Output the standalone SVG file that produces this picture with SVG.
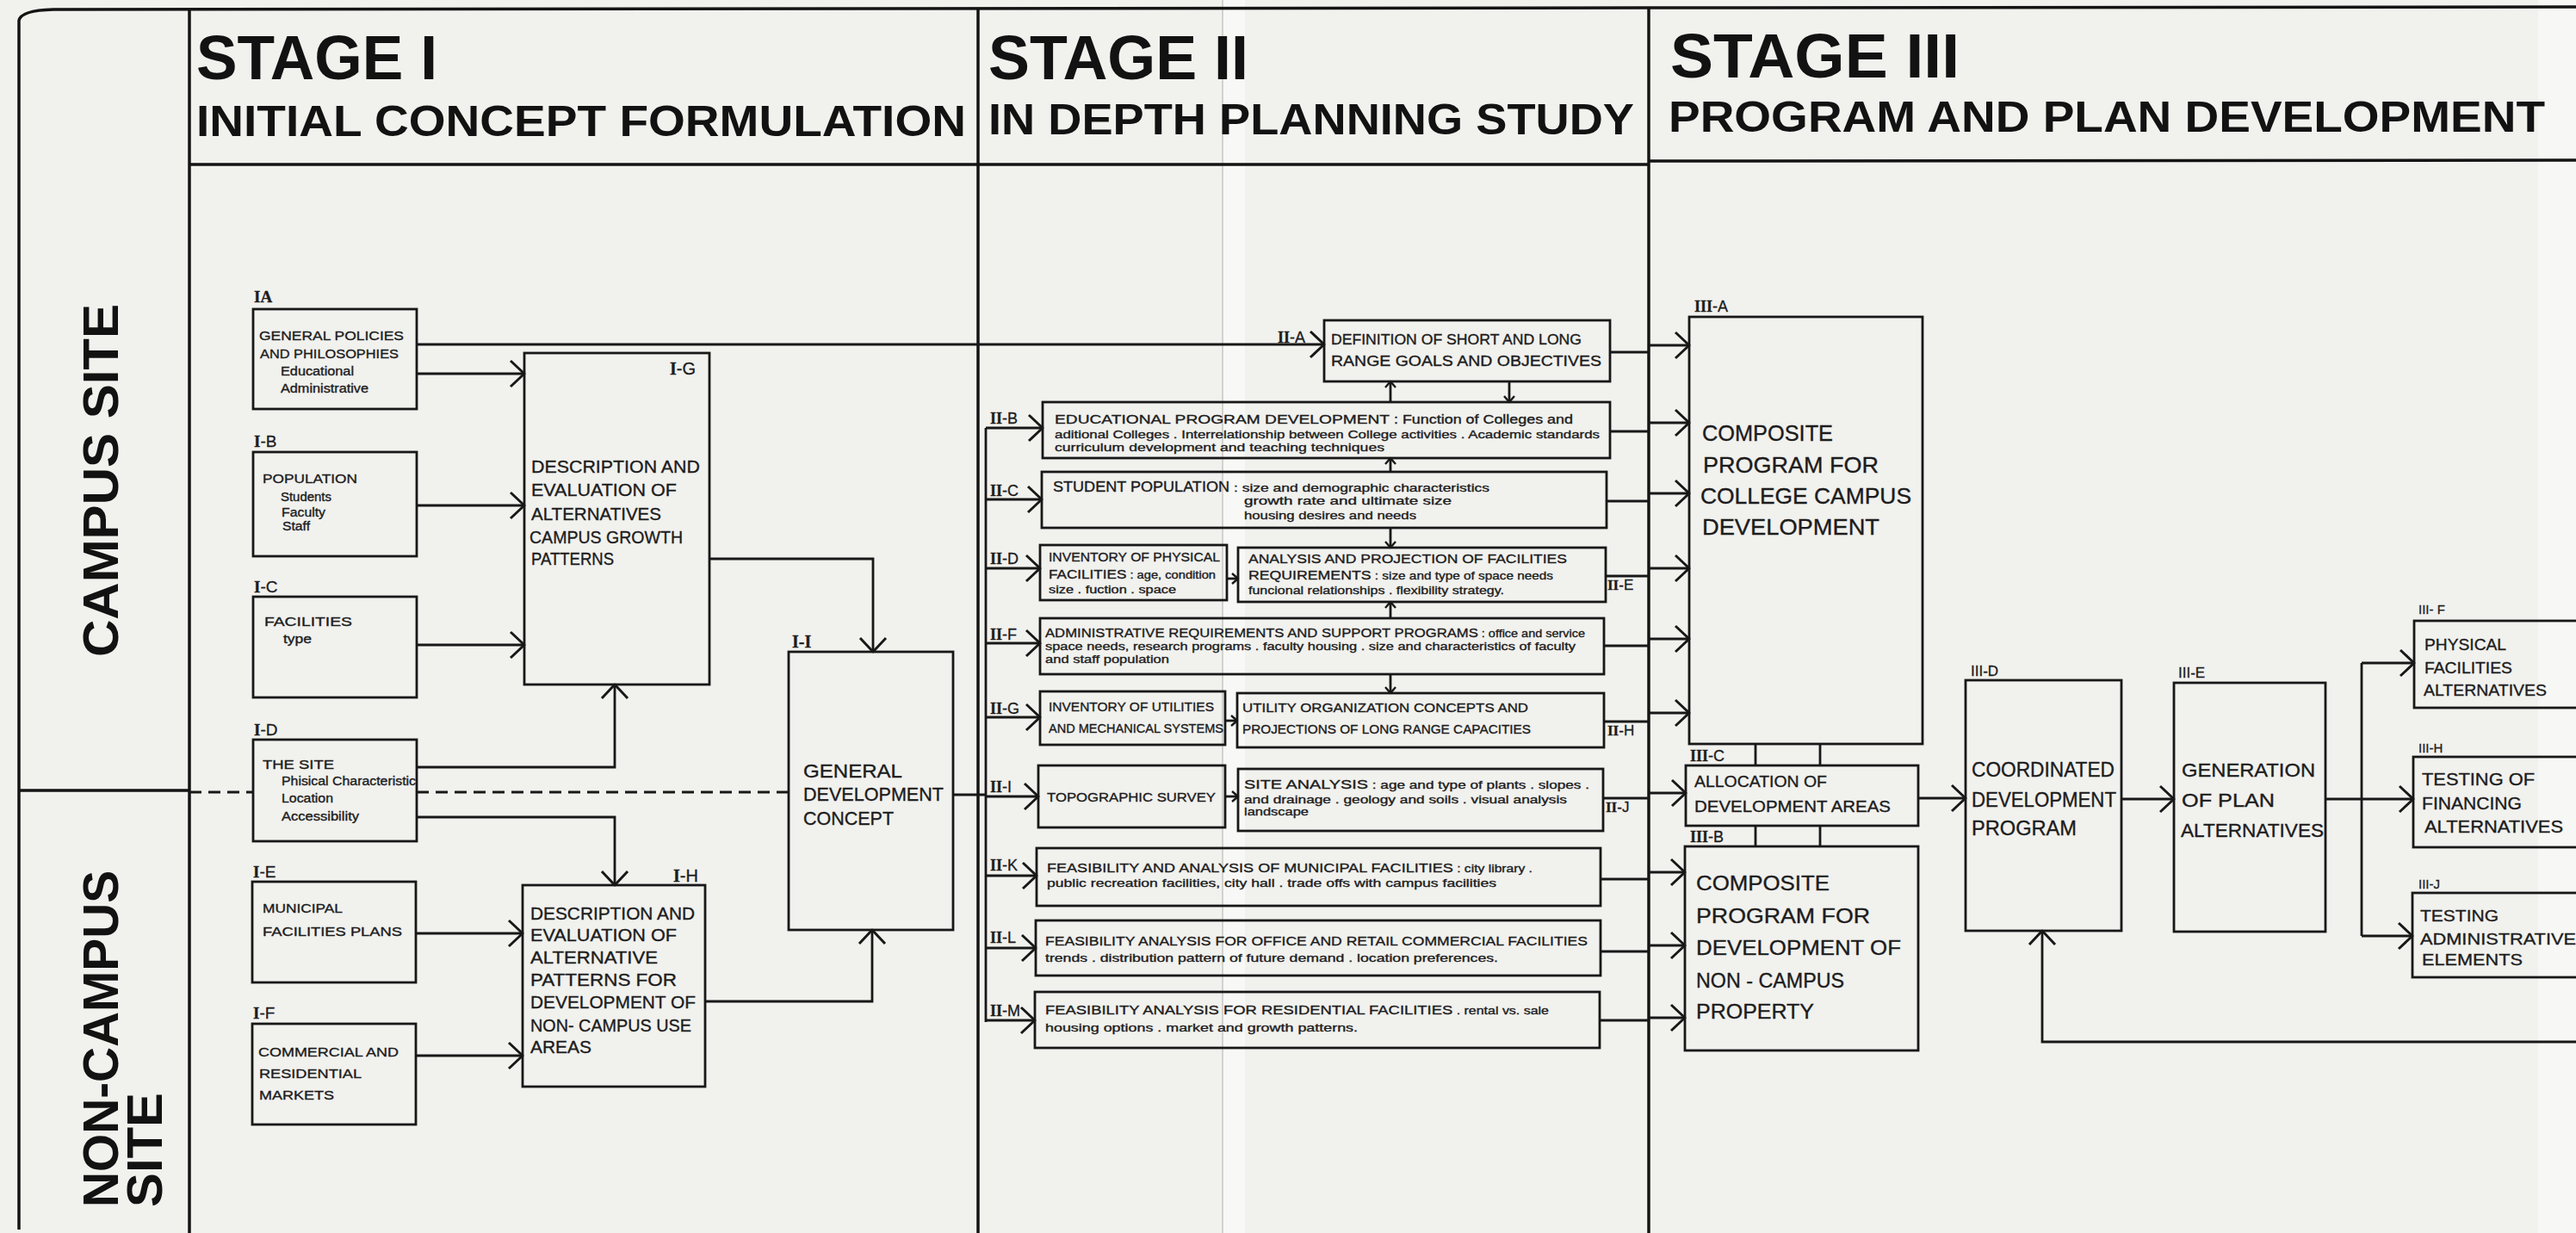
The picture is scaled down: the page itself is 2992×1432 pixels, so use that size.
<svg xmlns="http://www.w3.org/2000/svg" width="2992" height="1432" viewBox="0 0 2992 1432">
<defs>
<style>
.bx{fill:none;stroke:#181818;stroke-width:2.8}
.ln{fill:none;stroke:#181818;stroke-width:2.8;stroke-linejoin:miter}
.fr{fill:none;stroke:#141414;stroke-width:3.5}
.t{font-family:"Liberation Sans",Arial,sans-serif;fill:#1c1c1c;stroke:#1c1c1c;stroke-width:0.35}
.hd{font-family:"Liberation Sans",Arial,sans-serif;font-weight:bold;fill:#121212}
.lb{font-family:"Liberation Sans",Arial,sans-serif;fill:#1c1c1c;stroke:#1c1c1c;stroke-width:0.3}
.rn{font-family:"Liberation Serif","Times New Roman",serif;font-weight:bold}
</style>
<marker id="ah" viewBox="-19 -18 21 36" markerWidth="21" markerHeight="36" refX="0" refY="0" orient="auto" markerUnits="userSpaceOnUse">
<path d="M-16,-15 L0,0 L-16,15" fill="none" stroke="#181818" stroke-width="3" stroke-linejoin="round"/>
</marker>
<marker id="as" viewBox="-10 -8 12 16" markerWidth="12" markerHeight="16" refX="0" refY="0" orient="auto" markerUnits="userSpaceOnUse">
<path d="M-7,-6 L0,0 L-7,6" fill="none" stroke="#181818" stroke-width="2.4" stroke-linejoin="round"/>
</marker>
</defs>

<!-- paper -->
<rect x="0" y="0" width="2992" height="1432" fill="#f1f1ee"/>
<rect x="1420" y="0" width="26" height="1432" fill="#f8f8f6"/>
<line x1="1420" y1="0" x2="1420" y2="1432" stroke="#d2d2ce" stroke-width="2"/>
<rect x="2948" y="0" width="44" height="1432" fill="#f7f7f5"/>

<!-- frame and stage grid -->
<g id="frame">
<path class="fr" d="M22,1428 L22,24 Q24,12 62,11 L1915,9 L2992,8"/>
<line class="fr" x1="220" y1="10" x2="220" y2="1432" stroke-width="2.6"/>
<line class="fr" x1="1136" y1="9" x2="1136" y2="1432" stroke-width="4"/>
<line class="fr" x1="1915" y1="8" x2="1915" y2="1432" stroke-width="5"/>
<path class="fr" d="M220,191 L1915,191 M1915,187 L2992,186"/>
<line class="fr" x1="22" y1="918" x2="220" y2="918" stroke-width="2.6"/>
<path class="ln" stroke-dasharray="14 8" d="M220,920 H294 M484,920 H916"/>
</g>

<!-- stage headings -->
<g id="headings">
<text class="hd" x="228" y="92" font-size="72" textLength="280" lengthAdjust="spacingAndGlyphs">STAGE I</text>
<text class="hd" x="228" y="158" font-size="50" textLength="894" lengthAdjust="spacingAndGlyphs">INITIAL  CONCEPT  FORMULATION</text>
<text class="hd" x="1148" y="92" font-size="72" textLength="302" lengthAdjust="spacingAndGlyphs">STAGE  II</text>
<text class="hd" x="1148" y="156" font-size="50" textLength="750" lengthAdjust="spacingAndGlyphs">IN  DEPTH  PLANNING  STUDY</text>
<text class="hd" x="1940" y="90" font-size="72" textLength="336" lengthAdjust="spacingAndGlyphs">STAGE  III</text>
<text class="hd" x="1938" y="153" font-size="50" textLength="1018" lengthAdjust="spacingAndGlyphs">PROGRAM  AND  PLAN  DEVELOPMENT</text>
</g>

<!-- site rows -->
<g id="rows">
<text class="hd" font-size="57" text-anchor="middle" textLength="410" lengthAdjust="spacingAndGlyphs" transform="translate(137,558) rotate(-90)">CAMPUS  SITE</text>
<text class="hd" font-size="57" textLength="391" lengthAdjust="spacingAndGlyphs" transform="translate(137,1402) rotate(-90)">NON-CAMPUS</text>
<text class="hd" font-size="57" textLength="133" lengthAdjust="spacingAndGlyphs" transform="translate(188,1402) rotate(-90)">SITE</text>
</g>

<!-- connectors -->
<g id="connectors">
<!-- stage I -->
<path class="ln" d="M484,400 H1538" marker-end="url(#ah)"/>
<path class="ln" d="M484,434 H609" marker-end="url(#ah)"/>
<path class="ln" d="M484,587 H609" marker-end="url(#ah)"/>
<path class="ln" d="M484,749 H609" marker-end="url(#ah)"/>
<path class="ln" d="M484,891 H714 V795" marker-end="url(#ah)"/>
<path class="ln" d="M484,949 H714 V1028" marker-end="url(#ah)"/>
<path class="ln" d="M483,1084 H607" marker-end="url(#ah)"/>
<path class="ln" d="M483,1226 H607" marker-end="url(#ah)"/>
<path class="ln" d="M824,649 H1014 V757" marker-end="url(#ah)"/>
<path class="ln" d="M819,1163 H1013 V1080" marker-end="url(#ah)"/>
<path class="ln" d="M1107,923 H1145"/>
<!-- stage II distribution bus -->
<path class="ln" d="M1145,497 V1187"/>
<path class="ln" d="M1145,497 H1211" marker-end="url(#ah)"/>
<path class="ln" d="M1145,580 H1210" marker-end="url(#ah)"/>
<path class="ln" d="M1145,660 H1208" marker-end="url(#ah)"/>
<path class="ln" d="M1145,747 H1208" marker-end="url(#ah)"/>
<path class="ln" d="M1145,833 H1208" marker-end="url(#ah)"/>
<path class="ln" d="M1145,925 H1206" marker-end="url(#ah)"/>
<path class="ln" d="M1145,1017 H1204" marker-end="url(#ah)"/>
<path class="ln" d="M1145,1101 H1203" marker-end="url(#ah)"/>
<path class="ln" d="M1145,1185 H1202" marker-end="url(#ah)"/>
<!-- stage II internal links -->
<path class="ln" d="M1425,672 H1438" marker-end="url(#as)"/>
<path class="ln" d="M1423,837 H1437" marker-end="url(#as)"/>
<path class="ln" d="M1423,925 H1438" marker-end="url(#as)"/>
<path class="ln" d="M1615,467 V443" marker-end="url(#as)"/>
<path class="ln" d="M1753,443 V467" marker-end="url(#as)"/>
<path class="ln" d="M1615,548 V532" marker-end="url(#as)"/>
<path class="ln" d="M1615,613 V636" marker-end="url(#as)"/>
<path class="ln" d="M1615,718 V699" marker-end="url(#as)"/>
<path class="ln" d="M1615,783 V805" marker-end="url(#as)"/>
<!-- stage II to stage III collector -->
<path class="ln" d="M1870,409 H1915 M1870,501 H1915 M1866,582 H1915 M1865,669 H1915 M1863,750 H1915 M1863,838 H1915 M1862,927 H1915 M1859,1021 H1915 M1859,1105 H1915 M1858,1185 H1915"/>
<path class="ln" d="M1915,401 H1962" marker-end="url(#ah)"/>
<path class="ln" d="M1915,491 H1962" marker-end="url(#ah)"/>
<path class="ln" d="M1915,573 H1962" marker-end="url(#ah)"/>
<path class="ln" d="M1915,660 H1962" marker-end="url(#ah)"/>
<path class="ln" d="M1915,742 H1962" marker-end="url(#ah)"/>
<path class="ln" d="M1915,828 H1962" marker-end="url(#ah)"/>
<path class="ln" d="M1915,921 H1958" marker-end="url(#ah)"/>
<path class="ln" d="M1915,1013 H1957" marker-end="url(#ah)"/>
<path class="ln" d="M1915,1098 H1957" marker-end="url(#ah)"/>
<path class="ln" d="M1915,1182 H1957" marker-end="url(#ah)"/>
<!-- stage III -->
<path class="ln" d="M2039,864 V889 M2114,864 V889 M2039,959 V983 M2114,959 V983"/>
<path class="ln" d="M2228,927 H2283" marker-end="url(#ah)"/>
<path class="ln" d="M2464,928 H2525" marker-end="url(#ah)"/>
<path class="ln" d="M2701,928 H2743 M2743,770 V1087"/>
<path class="ln" d="M2743,770 H2804" marker-end="url(#ah)"/>
<path class="ln" d="M2743,928 H2803" marker-end="url(#ah)"/>
<path class="ln" d="M2743,1087 H2802" marker-end="url(#ah)"/>
<path class="ln" d="M2992,1210 H2372 V1081" marker-end="url(#ah)"/>
</g>

<!-- stage I nodes -->
<g id="n-IA">
<text class="lb" x="295" y="351" font-size="19"><tspan class="rn">IA</tspan></text>
<rect class="bx" x="294" y="359" width="190" height="116"/>
<text class="t" x="301" y="395" font-size="15" textLength="168" lengthAdjust="spacingAndGlyphs">GENERAL POLICIES</text>
<text class="t" x="302" y="416" font-size="15" textLength="161" lengthAdjust="spacingAndGlyphs">AND PHILOSOPHIES</text>
<text class="t" x="326" y="436" font-size="14" textLength="85" lengthAdjust="spacingAndGlyphs">Educational</text>
<text class="t" x="326" y="456" font-size="14" textLength="102" lengthAdjust="spacingAndGlyphs">Administrative</text>
</g>
<g id="n-IB">
<text class="lb" x="295" y="519" font-size="19"><tspan class="rn">I</tspan>-B</text>
<rect class="bx" x="294" y="525" width="190" height="121"/>
<text class="t" x="305" y="561" font-size="15" textLength="110" lengthAdjust="spacingAndGlyphs">POPULATION</text>
<text class="t" x="326" y="582" font-size="14" textLength="59" lengthAdjust="spacingAndGlyphs">Students</text>
<text class="t" x="327" y="600" font-size="14" textLength="51" lengthAdjust="spacingAndGlyphs">Faculty</text>
<text class="t" x="328" y="616" font-size="14" textLength="32" lengthAdjust="spacingAndGlyphs">Staff</text>
</g>
<g id="n-IC">
<text class="lb" x="295" y="688" font-size="19"><tspan class="rn">I</tspan>-C</text>
<rect class="bx" x="294" y="693" width="190" height="117"/>
<text class="t" x="307" y="727" font-size="15" textLength="102" lengthAdjust="spacingAndGlyphs">FACILITIES</text>
<text class="t" x="329" y="747" font-size="14" textLength="33" lengthAdjust="spacingAndGlyphs">type</text>
</g>
<g id="n-ID">
<text class="lb" x="295" y="854" font-size="19"><tspan class="rn">I</tspan>-D</text>
<rect class="bx" x="294" y="859" width="190" height="118"/>
<text class="t" x="305" y="893" font-size="15" textLength="83" lengthAdjust="spacingAndGlyphs">THE SITE</text>
<text class="t" x="327" y="912" font-size="14" textLength="156" lengthAdjust="spacingAndGlyphs">Phisical Characteristic</text>
<text class="t" x="327" y="932" font-size="14" textLength="60" lengthAdjust="spacingAndGlyphs">Location</text>
<text class="t" x="327" y="953" font-size="14" textLength="90" lengthAdjust="spacingAndGlyphs">Accessibility</text>
</g>
<g id="n-IE">
<text class="lb" x="294" y="1019" font-size="19"><tspan class="rn">I</tspan>-E</text>
<rect class="bx" x="293" y="1024" width="190" height="117"/>
<text class="t" x="305" y="1060" font-size="15" textLength="93" lengthAdjust="spacingAndGlyphs">MUNICIPAL</text>
<text class="t" x="305" y="1087" font-size="15" textLength="162" lengthAdjust="spacingAndGlyphs">FACILITIES PLANS</text>
</g>
<g id="n-IF">
<text class="lb" x="294" y="1183" font-size="19"><tspan class="rn">I</tspan>-F</text>
<rect class="bx" x="293" y="1189" width="190" height="117"/>
<text class="t" x="300" y="1227" font-size="15" textLength="163" lengthAdjust="spacingAndGlyphs">COMMERCIAL AND</text>
<text class="t" x="301" y="1252" font-size="15" textLength="119" lengthAdjust="spacingAndGlyphs">RESIDENTIAL</text>
<text class="t" x="301" y="1277" font-size="15" textLength="87" lengthAdjust="spacingAndGlyphs">MARKETS</text>
</g>
<g id="n-IG">
<rect class="bx" x="609" y="410" width="215" height="385"/>
<text class="lb" x="778" y="435" font-size="20"><tspan class="rn">I</tspan>-G</text>
<text class="t" x="617" y="549" font-size="21" textLength="196" lengthAdjust="spacingAndGlyphs">DESCRIPTION AND</text>
<text class="t" x="617" y="576" font-size="21" textLength="169" lengthAdjust="spacingAndGlyphs">EVALUATION OF</text>
<text class="t" x="617" y="604" font-size="21" textLength="151" lengthAdjust="spacingAndGlyphs">ALTERNATIVES</text>
<text class="t" x="615" y="631" font-size="21" textLength="178" lengthAdjust="spacingAndGlyphs">CAMPUS GROWTH</text>
<text class="t" x="617" y="656" font-size="21" textLength="96" lengthAdjust="spacingAndGlyphs">PATTERNS</text>
</g>
<g id="n-IH">
<text class="lb" x="782" y="1024" font-size="20"><tspan class="rn">I</tspan>-H</text>
<rect class="bx" x="607" y="1028" width="212" height="234"/>
<text class="t" x="616" y="1068" font-size="20" textLength="191" lengthAdjust="spacingAndGlyphs">DESCRIPTION AND</text>
<text class="t" x="616" y="1093" font-size="20" textLength="170" lengthAdjust="spacingAndGlyphs">EVALUATION OF</text>
<text class="t" x="616" y="1119" font-size="20" textLength="148" lengthAdjust="spacingAndGlyphs">ALTERNATIVE</text>
<text class="t" x="616" y="1145" font-size="20" textLength="170" lengthAdjust="spacingAndGlyphs">PATTERNS FOR</text>
<text class="t" x="616" y="1171" font-size="20" textLength="192" lengthAdjust="spacingAndGlyphs">DEVELOPMENT OF</text>
<text class="t" x="616" y="1198" font-size="20" textLength="187" lengthAdjust="spacingAndGlyphs">NON- CAMPUS USE</text>
<text class="t" x="616" y="1223" font-size="20" textLength="71" lengthAdjust="spacingAndGlyphs">AREAS</text>
</g>
<g id="n-II">
<text class="lb" x="920" y="752" font-size="20"><tspan class="rn">I-I</tspan></text>
<rect class="bx" x="916" y="757" width="191" height="323"/>
<text class="t" x="933" y="903" font-size="22" textLength="115" lengthAdjust="spacingAndGlyphs">GENERAL</text>
<text class="t" x="933" y="930" font-size="22" textLength="163" lengthAdjust="spacingAndGlyphs">DEVELOPMENT</text>
<text class="t" x="933" y="958" font-size="22" textLength="105" lengthAdjust="spacingAndGlyphs">CONCEPT</text>
</g>

<!-- stage II nodes -->
<g id="n-IIA">
<text class="lb" x="1484" y="398" font-size="18"><tspan class="rn">II</tspan>-A</text>
<rect class="bx" x="1538" y="372" width="332" height="71"/>
<text class="t" x="1546" y="400" font-size="16" textLength="291" lengthAdjust="spacingAndGlyphs">DEFINITION OF SHORT AND LONG</text>
<text class="t" x="1546" y="425" font-size="16" textLength="314" lengthAdjust="spacingAndGlyphs">RANGE GOALS AND OBJECTIVES</text>
</g>
<g id="n-IIB">
<text class="lb" x="1150" y="492" font-size="18"><tspan class="rn">II</tspan>-B</text>
<rect class="bx" x="1211" y="467" width="659" height="65"/>
<text class="t" x="1225" y="492" textLength="602" lengthAdjust="spacingAndGlyphs"><tspan font-size="15">EDUCATIONAL PROGRAM DEVELOPMENT</tspan><tspan font-size="14"> : Function of Colleges and</tspan></text>
<text class="t" x="1225" y="509" font-size="13" textLength="633" lengthAdjust="spacingAndGlyphs">aditional Colleges . Interrelationship between College activities . Academic standards</text>
<text class="t" x="1225" y="524" font-size="13" textLength="383" lengthAdjust="spacingAndGlyphs">curriculum development and teaching techniques</text>
</g>
<g id="n-IIC">
<text class="lb" x="1150" y="576" font-size="18"><tspan class="rn">II</tspan>-C</text>
<rect class="bx" x="1210" y="548" width="656" height="65"/>
<text class="t" x="1223" y="571" font-size="16" textLength="205" lengthAdjust="spacingAndGlyphs">STUDENT POPULATION</text>
<text class="t" x="1433" y="571" font-size="13" textLength="297" lengthAdjust="spacingAndGlyphs">: size and demographic characteristics</text>
<text class="t" x="1445" y="586" font-size="13" textLength="241" lengthAdjust="spacingAndGlyphs">growth rate and ultimate size</text>
<text class="t" x="1445" y="603" font-size="13" textLength="200" lengthAdjust="spacingAndGlyphs">housing desires and needs</text>
</g>
<g id="n-IID">
<text class="lb" x="1150" y="655" font-size="18"><tspan class="rn">II</tspan>-D</text>
<rect class="bx" x="1208" y="633" width="217" height="64"/>
<text class="t" x="1218" y="652" font-size="14" textLength="199" lengthAdjust="spacingAndGlyphs">INVENTORY OF PHYSICAL</text>
<text class="t" x="1218" y="672" textLength="194" lengthAdjust="spacingAndGlyphs"><tspan font-size="14">FACILITIES</tspan><tspan font-size="12"> : age, condition</tspan></text>
<text class="t" x="1218" y="689" font-size="12" textLength="148" lengthAdjust="spacingAndGlyphs">size . fuction . space</text>
</g>
<g id="n-IIE">
<rect class="bx" x="1438" y="636" width="427" height="63"/>
<text class="t" x="1450" y="654" font-size="15" textLength="370" lengthAdjust="spacingAndGlyphs">ANALYSIS AND PROJECTION OF FACILITIES</text>
<text class="t" x="1450" y="673" textLength="354" lengthAdjust="spacingAndGlyphs"><tspan font-size="15">REQUIREMENTS</tspan><tspan font-size="13"> : size and type of space needs</tspan></text>
<text class="t" x="1450" y="690" font-size="13" textLength="297" lengthAdjust="spacingAndGlyphs">funcional relationships . flexibility strategy.</text>
<text class="lb" x="1867" y="685" font-size="17"><tspan class="rn">II</tspan>-E</text>
</g>
<g id="n-IIF">
<text class="lb" x="1150" y="743" font-size="18"><tspan class="rn">II</tspan>-F</text>
<rect class="bx" x="1208" y="718" width="655" height="65"/>
<text class="t" x="1214" y="740" textLength="627" lengthAdjust="spacingAndGlyphs"><tspan font-size="15">ADMINISTRATIVE REQUIREMENTS AND SUPPORT PROGRAMS</tspan><tspan font-size="13"> : office and service</tspan></text>
<text class="t" x="1214" y="755" font-size="13" textLength="616" lengthAdjust="spacingAndGlyphs">space needs, research programs . faculty housing . size and characteristics of faculty</text>
<text class="t" x="1214" y="770" font-size="13" textLength="144" lengthAdjust="spacingAndGlyphs">and staff population</text>
</g>
<g id="n-IIG">
<text class="lb" x="1150" y="829" font-size="18"><tspan class="rn">II</tspan>-G</text>
<rect class="bx" x="1208" y="803" width="215" height="62"/>
<text class="t" x="1218" y="826" font-size="14" textLength="192" lengthAdjust="spacingAndGlyphs">INVENTORY OF UTILITIES</text>
<text class="t" x="1218" y="851" font-size="14" textLength="203" lengthAdjust="spacingAndGlyphs">AND MECHANICAL SYSTEMS</text>
</g>
<g id="n-IIH">
<rect class="bx" x="1437" y="805" width="426" height="63"/>
<text class="t" x="1443" y="827" font-size="14" textLength="332" lengthAdjust="spacingAndGlyphs">UTILITY   ORGANIZATION CONCEPTS AND</text>
<text class="t" x="1443" y="852" font-size="14" textLength="335" lengthAdjust="spacingAndGlyphs">PROJECTIONS OF LONG RANGE CAPACITIES</text>
<text class="lb" x="1867" y="854" font-size="17"><tspan class="rn">II</tspan>-H</text>
</g>
<g id="n-III">
<text class="lb" x="1150" y="920" font-size="18"><tspan class="rn">II</tspan>-I</text>
<rect class="bx" x="1206" y="889" width="217" height="72"/>
<text class="t" x="1216" y="931" font-size="15" textLength="196" lengthAdjust="spacingAndGlyphs">TOPOGRAPHIC SURVEY</text>
</g>
<g id="n-IIJ">
<rect class="bx" x="1438" y="893" width="424" height="72"/>
<text class="t" x="1445" y="916" textLength="401" lengthAdjust="spacingAndGlyphs"><tspan font-size="15">SITE ANALYSIS</tspan><tspan font-size="13"> : age and type of plants . slopes .</tspan></text>
<text class="t" x="1445" y="933" font-size="13" textLength="375" lengthAdjust="spacingAndGlyphs">and drainage . geology and soils . visual analysis</text>
<text class="t" x="1445" y="947" font-size="13" textLength="75" lengthAdjust="spacingAndGlyphs">landscape</text>
<text class="lb" x="1865" y="943" font-size="17"><tspan class="rn">II</tspan>-J</text>
</g>
<g id="n-IIK">
<text class="lb" x="1150" y="1011" font-size="18"><tspan class="rn">II</tspan>-K</text>
<rect class="bx" x="1204" y="985" width="655" height="67"/>
<text class="t" x="1216" y="1013" textLength="564" lengthAdjust="spacingAndGlyphs"><tspan font-size="15">FEASIBILITY AND ANALYSIS OF MUNICIPAL FACILITIES</tspan><tspan font-size="13"> : city library .</tspan></text>
<text class="t" x="1216" y="1030" font-size="13" textLength="522" lengthAdjust="spacingAndGlyphs">public recreation facilities, city hall . trade offs with campus facilities</text>
</g>
<g id="n-IIL">
<text class="lb" x="1150" y="1095" font-size="18"><tspan class="rn">II</tspan>-L</text>
<rect class="bx" x="1203" y="1069" width="656" height="64"/>
<text class="t" x="1214" y="1098" font-size="15" textLength="630" lengthAdjust="spacingAndGlyphs">FEASIBILITY ANALYSIS FOR OFFICE AND RETAIL COMMERCIAL FACILITIES</text>
<text class="t" x="1214" y="1117" font-size="13" textLength="526" lengthAdjust="spacingAndGlyphs">trends . distribution pattern of future demand . location preferences.</text>
</g>
<g id="n-IIM">
<text class="lb" x="1150" y="1180" font-size="18"><tspan class="rn">II</tspan>-M</text>
<rect class="bx" x="1202" y="1152" width="656" height="65"/>
<text class="t" x="1214" y="1178" textLength="585" lengthAdjust="spacingAndGlyphs"><tspan font-size="15">FEASIBILITY ANALYSIS FOR RESIDENTIAL FACILITIES</tspan><tspan font-size="13"> . rental vs. sale</tspan></text>
<text class="t" x="1214" y="1198" font-size="13" textLength="363" lengthAdjust="spacingAndGlyphs">housing options . market and growth patterns.</text>
</g>

<!-- stage III nodes -->
<g id="n-IIIA">
<text class="lb" x="1968" y="362" font-size="18"><tspan class="rn">III</tspan>-A</text>
<rect class="bx" x="1962" y="368" width="271" height="496"/>
<text class="t" x="1977" y="512" font-size="26" textLength="152" lengthAdjust="spacingAndGlyphs">COMPOSITE</text>
<text class="t" x="1978" y="549" font-size="26" textLength="204" lengthAdjust="spacingAndGlyphs">PROGRAM  FOR</text>
<text class="t" x="1975" y="585" font-size="26" textLength="245" lengthAdjust="spacingAndGlyphs">COLLEGE CAMPUS</text>
<text class="t" x="1977" y="621" font-size="26" textLength="206" lengthAdjust="spacingAndGlyphs">DEVELOPMENT</text>
</g>
<g id="n-IIIC">
<text class="lb" x="1963" y="884" font-size="18"><tspan class="rn">III</tspan>-C</text>
<rect class="bx" x="1958" y="889" width="270" height="70"/>
<text class="t" x="1968" y="914" font-size="18" textLength="154" lengthAdjust="spacingAndGlyphs">ALLOCATION OF</text>
<text class="t" x="1968" y="943" font-size="18" textLength="228" lengthAdjust="spacingAndGlyphs">DEVELOPMENT AREAS</text>
</g>
<g id="n-IIIB">
<text class="lb" x="1963" y="978" font-size="18"><tspan class="rn">III</tspan>-B</text>
<rect class="bx" x="1957" y="983" width="271" height="237"/>
<text class="t" x="1970" y="1034" font-size="24" textLength="155" lengthAdjust="spacingAndGlyphs">COMPOSITE</text>
<text class="t" x="1970" y="1072" font-size="24" textLength="202" lengthAdjust="spacingAndGlyphs">PROGRAM  FOR</text>
<text class="t" x="1970" y="1109" font-size="24" textLength="238" lengthAdjust="spacingAndGlyphs">DEVELOPMENT OF</text>
<text class="t" x="1970" y="1147" font-size="24" textLength="172" lengthAdjust="spacingAndGlyphs">NON - CAMPUS</text>
<text class="t" x="1970" y="1183" font-size="24" textLength="137" lengthAdjust="spacingAndGlyphs">PROPERTY</text>
</g>
<g id="n-IIID">
<text class="lb" x="2289" y="785" font-size="17">III-D</text>
<rect class="bx" x="2283" y="790" width="181" height="291"/>
<text class="t" x="2290" y="902" font-size="23" textLength="166" lengthAdjust="spacingAndGlyphs">COORDINATED</text>
<text class="t" x="2290" y="937" font-size="23" textLength="168" lengthAdjust="spacingAndGlyphs">DEVELOPMENT</text>
<text class="t" x="2290" y="970" font-size="23" textLength="122" lengthAdjust="spacingAndGlyphs">PROGRAM</text>
</g>
<g id="n-IIIE">
<text class="lb" x="2530" y="787" font-size="17">III-E</text>
<rect class="bx" x="2525" y="793" width="176" height="289"/>
<text class="t" x="2534" y="902" font-size="22" textLength="155" lengthAdjust="spacingAndGlyphs">GENERATION</text>
<text class="t" x="2534" y="937" font-size="22" textLength="108" lengthAdjust="spacingAndGlyphs">OF PLAN</text>
<text class="t" x="2533" y="972" font-size="22" textLength="166" lengthAdjust="spacingAndGlyphs">ALTERNATIVES</text>
</g>
<g id="n-IIIF">
<text class="lb" x="2809" y="713" font-size="15">III- F</text>
<rect class="bx" x="2804" y="721" width="260" height="101"/>
<text class="t" x="2816" y="755" font-size="18" textLength="95" lengthAdjust="spacingAndGlyphs">PHYSICAL</text>
<text class="t" x="2816" y="782" font-size="18" textLength="102" lengthAdjust="spacingAndGlyphs">FACILITIES</text>
<text class="t" x="2815" y="808" font-size="18" textLength="143" lengthAdjust="spacingAndGlyphs">ALTERNATIVES</text>
</g>
<g id="n-IIIH">
<text class="lb" x="2809" y="874" font-size="15">III-H</text>
<rect class="bx" x="2803" y="879" width="260" height="105"/>
<text class="t" x="2813" y="912" font-size="20" textLength="131" lengthAdjust="spacingAndGlyphs">TESTING  OF</text>
<text class="t" x="2813" y="940" font-size="20" textLength="116" lengthAdjust="spacingAndGlyphs">FINANCING</text>
<text class="t" x="2816" y="967" font-size="20" textLength="161" lengthAdjust="spacingAndGlyphs">ALTERNATIVES</text>
</g>
<g id="n-IIIJ">
<text class="lb" x="2809" y="1032" font-size="15">III-J</text>
<rect class="bx" x="2802" y="1037" width="260" height="98"/>
<text class="t" x="2811" y="1070" font-size="19" textLength="91" lengthAdjust="spacingAndGlyphs">TESTING</text>
<text class="t" x="2811" y="1097" font-size="19" textLength="181" lengthAdjust="spacingAndGlyphs">ADMINISTRATIVE</text>
<text class="t" x="2813" y="1121" font-size="19" textLength="117" lengthAdjust="spacingAndGlyphs">ELEMENTS</text>
</g>
</svg>
